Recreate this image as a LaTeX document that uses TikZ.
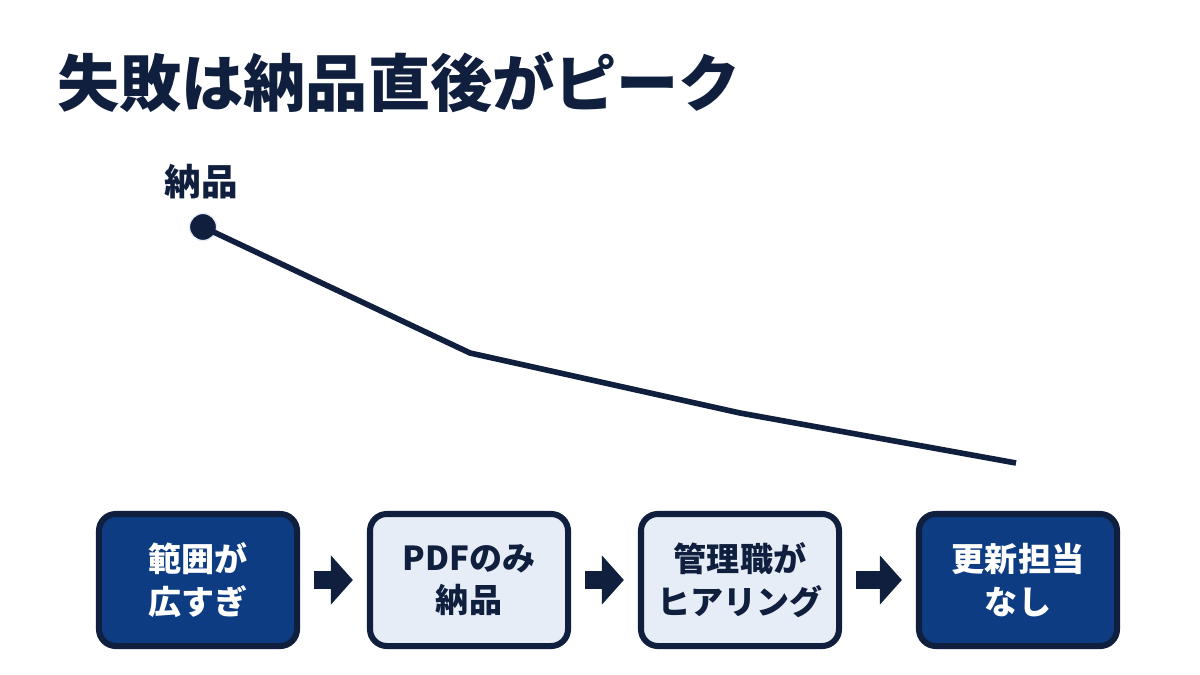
\documentclass[tikz,border=0pt]{standalone}
\usepackage{fontspec}
\setmainfont{Noto Sans CJK JP}
\usepackage{xcolor}
\usetikzlibrary{arrows.meta,positioning}
\definecolor{navy}{HTML}{0F1F3D}
\definecolor{boxblue}{HTML}{0D3C82}
\definecolor{boxlight}{HTML}{E7EDF7}

\begin{document}
\begin{tikzpicture}[
  x=0.025cm, y=-0.025cm,
  stepbox/.style={draw=navy, line width=4.3pt, rounded corners=12pt, minimum width=4.95cm, minimum height=3.3cm, align=center, font=\bfseries\fontsize{23.5}{30.5}\selectfont},
  darkbox/.style={stepbox, fill=boxblue, text=white},
  lightbox/.style={stepbox, fill=boxlight, text=navy},
  blockarr/.style={-{Triangle[length=15.6pt,width=34pt]}, line width=13.5pt, draw=navy, shorten <=10pt, shorten >=10pt},
  trend/.style={draw=navy, line width=4pt, line join=round}
]
\useasboundingbox (0,0) rectangle (1200,675);

% title
\node[anchor=west, text=navy, font=\bfseries\fontsize{44.2}{50}\selectfont, inner sep=0pt] (title) at (57,82) {失敗は納品直後がピーク};

% trend line
\node[circle, fill=navy, draw=boxlight, line width=1pt, minimum size=0.68cm, inner sep=0pt] (start) at (203,227) {};
\node[text=navy, font=\bfseries\fontsize{26}{30}\selectfont] (label) at (201,182) {納品};
\coordinate (p1) at (470,353);
\coordinate (p2) at (740,413);
\coordinate (p3) at (1016,463);
\draw[trend] (start.center) -- (p1) -- (p2) -- (p3);

% steps
\node[darkbox] (scope) at (198,580) {範囲が\\広すぎ};
\node[lightbox] (pdf) at (469,580) {PDFのみ\\納品};
\node[lightbox] (hearing) at (740,580) {管理職が\\ヒアリング};
\node[darkbox] (owner) at (1018,580) {更新担当\\なし};

\draw[blockarr] (scope) -- (pdf);
\draw[blockarr] (pdf) -- (hearing);
\draw[blockarr] (hearing) -- (owner);
\end{tikzpicture}
\end{document}
